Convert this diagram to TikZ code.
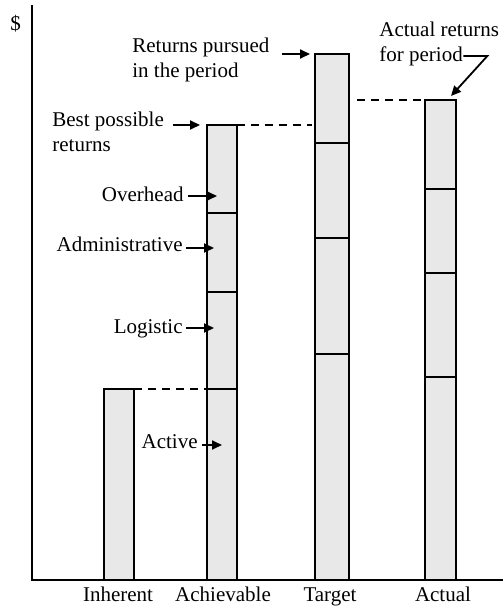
\documentclass[tikz,border=0pt]{standalone}
\usepackage{fontspec}
\setmainfont{Liberation Serif}
\usetikzlibrary{arrows.meta}
\definecolor{barfill}{HTML}{E8E8E8}
\begin{document}
\begin{tikzpicture}[x=0.5pt,y=-0.5pt,
  lbl/.style={font=\fontsize{10.5}{12.5}\selectfont, inner sep=0pt},
  axisline/.style={line width=1pt},
  barbox/.style={draw, line width=1pt, fill=barfill},
  divider/.style={line width=1pt},
  guide/.style={line width=0.8pt, dash pattern=on 4pt off 3pt},
  arr/.style={line width=0.9pt, -{Triangle[length=5pt,width=4.5pt]}}]
\useasboundingbox (0,0) rectangle (503,606);

% axes
\coordinate (origin) at (32,580);
\coordinate (ytop) at (32,5);
\coordinate (xend) at (503,580);
\draw[axisline] (ytop) -- (origin) -- (xend);
\node[lbl, anchor=base west] (dollar) at (10,30) {\$};

% bars
\draw[barbox] (104,389) rectangle (134,580);
\draw[barbox] (207,125) rectangle (237,580);
\draw[barbox] (315,54) rectangle (349,580);
\draw[barbox] (425,100) rectangle (456,580);

% segment dividers
\foreach \y in {213,292,389} \draw[divider] (207,\y) -- (237,\y);
\foreach \y in {143,238,354} \draw[divider] (315,\y) -- (349,\y);
\foreach \y in {189,273,377} \draw[divider] (425,\y) -- (456,\y);

% dashed level guides
\draw[guide] (134,389) -- (207,389);
\draw[guide] (237,125) -- (312,125);
\draw[guide] (357,100) -- (425,100);

% category labels
\node[lbl, anchor=base] (inh) at (118,601) {Inherent};
\node[lbl, anchor=base] (ach) at (223,601) {Achievable};
\node[lbl, anchor=base] (tgt) at (330,601) {Target};
\node[lbl, anchor=base] (actl) at (443,601) {Actual};

% annotations
\node[lbl, anchor=north west, align=left] (pursued) at (132,38) {Returns pursued\\in the period};
\node[lbl, anchor=north west, align=left] (actret) at (379,22) {Actual returns\\for period};
\node[lbl, anchor=north west, align=left] (best) at (52,112) {Best possible\\returns};
\node[lbl, anchor=base east] (ovh) at (184,201) {Overhead};
\node[lbl, anchor=base east] (adm) at (183,251) {Administrative};
\node[lbl, anchor=base east] (logi) at (183,333) {Logistic};
\node[lbl, anchor=base east] (actv) at (198,448) {Active};

\coordinate (pursuedTip) at (310,54);
\coordinate (actTip) at (451,96);
\coordinate (bestTip) at (200,125);
\coordinate (ovhTip) at (217,196);
\coordinate (admTip) at (214,248);
\coordinate (logiTip) at (214,328);
\coordinate (actvTip) at (222,445);

\draw[arr] ([shift={(12,16)}]pursued.north east) -- (pursuedTip);
\draw[arr] ([shift={(-36,34)}]actret.north east) -- ++(24,0) -- (actTip);
\draw[arr] ([shift={(9,13)}]best.north east) -- (bestTip);
\draw[arr] ([shift={(4,-5)}]ovh.base east) -- (ovhTip);
\draw[arr] ([shift={(3,-3)}]adm.base east) -- (admTip);
\draw[arr] ([shift={(3,-5)}]logi.base east) -- (logiTip);
\draw[arr] ([shift={(4,-3)}]actv.base east) -- (actvTip);
\end{tikzpicture}
\end{document}
